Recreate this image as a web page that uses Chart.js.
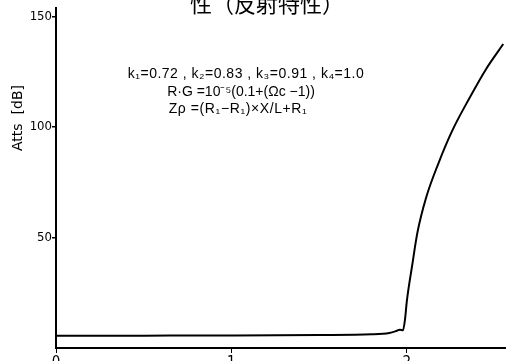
<!DOCTYPE html>
<html>
<head>
<meta charset="utf-8">
<script src="https://cdn.jsdelivr.net/npm/chart.js@4/dist/chart.umd.min.js"></script>
<style>
  html, body { margin: 0; padding: 0; background: #fff; }
  #wrap { width: 517px; height: 361px; position: relative; }
</style>
</head>
<body>
<div id="wrap"><canvas id="attChart"></canvas></div>
<script>
// normalised frequency (x) and attenuation in dB (y)
const freq = [0, 0.5, 1.0, 1.5, 1.8, 1.9, 1.94, 1.96, 1.978, 1.99, 2.0, 2.03, 2.06, 2.11, 2.18, 2.26, 2.36, 2.45, 2.55];
const atts = [5.5, 5.6, 5.7, 5.9, 6.2, 6.8, 7.7, 8.3, 8.0, 13, 21, 37, 52, 68, 83.5, 98.5, 113.5, 126, 137.6];
const xTicks = [0, 1, 2];
const yTicks = [50, 100, 150];

const noteLines = [
    'k\u2081=0.72 , k\u2082=0.83 , k\u2083=0.91 , k\u2084=1.0',
    'R\u00b7G =10\u207b\u2075(0.1+(\u03a9c \u22121))',
    'Z\u03c1 =(R\u2081\u2212R\u2081)\u00d7X/L+R\u2081'
];
const titleText = '性（反射特性）';
const yTitle = 'Atts  [dB]';

const narrow = '"Liberation Sans Narrow", "DejaVu Sans Condensed", "Liberation Sans", sans-serif';

// title (cut at the top edge), y axis label and the parameter notes
const textPlugin = {
    id: 'notes',
    afterDraw(chart) {
        const ctx = chart.ctx;
        ctx.save();
        ctx.fillStyle = '#000';
        ctx.font = '22px "Noto Sans CJK JP", "Noto Sans CJK SC", sans-serif';
        ctx.textAlign = 'center';
        ctx.textBaseline = 'alphabetic';
        ctx.fillText(titleText, 267, 12);

        ctx.font = '14px "Liberation Sans", sans-serif';
        const ys = [78, 96, 113];
        const xs = [246, 241, 238];
        const sp = ['0.5px', '0px', '0.6px'];
        noteLines.forEach((t, i) => {
            ctx.letterSpacing = sp[i];
            ctx.fillText(t, xs[i], ys[i]);
        });
        ctx.letterSpacing = '0px';

        ctx.translate(18, 118);
        ctx.rotate(-Math.PI / 2);
        ctx.textBaseline = 'middle';
        ctx.font = '14px "DejaVu Sans", sans-serif';
        ctx.fillText(yTitle, 0, 0);
        ctx.restore();
    }
};

new Chart(document.getElementById('attChart').getContext('2d'), {
    type: 'line',
    data: {
        datasets: [{
            data: freq.map((f, i) => ({ x: f, y: atts[i] })),
            borderColor: '#000',
            borderWidth: 2,
            pointRadius: 0,
            cubicInterpolationMode: 'monotone',
            fill: false
        }]
    },
    options: {
        responsive: true,
        maintainAspectRatio: false,
        animation: false,
        layout: { padding: { top: 6, right: 12, left: 0, bottom: 0 } },
        plugins: {
            legend: { display: false },
            tooltip: { enabled: false }
        },
        scales: {
            x: {
                type: 'linear',
                min: 0,
                max: 2.56,
                afterBuildTicks: s => { s.ticks = xTicks.map(v => ({ value: v })); },
                afterFit: s => { s.height = 13; },
                border: { color: '#000', width: 2 },
                grid: { drawOnChartArea: false, drawTicks: true, tickLength: 5, color: '#000', lineWidth: 1 },
                ticks: { color: '#000', padding: 1, font: { family: narrow, size: 15 }, maxRotation: 0 }
            },
            y: {
                min: 0,
                max: 154,
                afterBuildTicks: s => { s.ticks = yTicks.map(v => ({ value: v })); },
                afterFit: s => { s.width = 56; },
                border: { color: '#000', width: 2 },
                grid: { drawOnChartArea: false, drawTicks: true, tickLength: 4, color: '#000', lineWidth: 1.5 },
                ticks: { color: '#000', padding: 0, font: { family: narrow, size: 13 } }
            }
        }
    },
    plugins: [textPlugin]
});
</script>
</body>
</html>
